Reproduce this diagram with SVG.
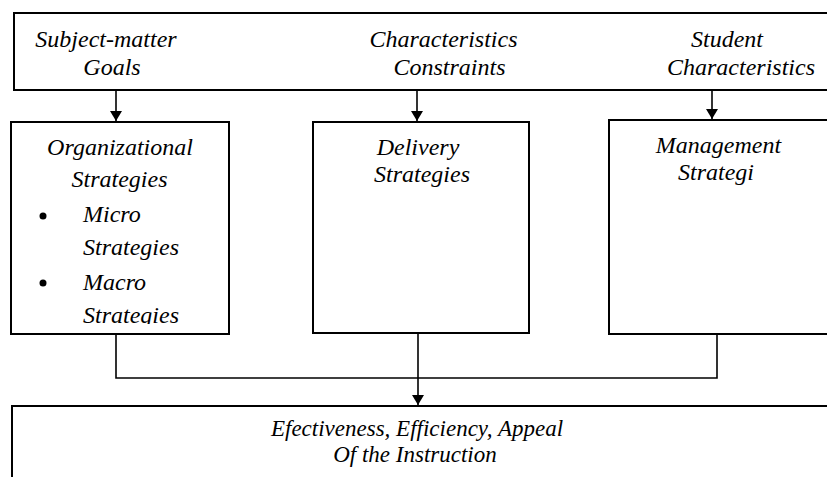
<svg xmlns="http://www.w3.org/2000/svg" width="827" height="477" viewBox="0 0 827 477">
<style>
.box{fill:#fff;stroke:#000;stroke-width:2}
.ln{fill:none;stroke:#000;stroke-width:1.6}
.c{text-anchor:middle}
</style>
<defs>
<marker id="ah" viewBox="0 0 10 12" refX="10" refY="6" markerWidth="10" markerHeight="12" markerUnits="userSpaceOnUse" orient="auto">
<path d="M0,0 L10,6 L0,12 Z" fill="#000"/>
</marker>
<clipPath id="clip1"><rect x="12" y="123" width="216" height="201"/></clipPath>
</defs>
<g font-family="'Liberation Serif', 'Times New Roman', serif" font-style="italic" font-size="24" fill="#000">
<g id="top-box">
<rect class="box" x="14" y="13" width="830" height="77"/>
<text class="c" x="106" y="47">Subject-matter</text>
<text class="c" x="112" y="75">Goals</text>
<text class="c" x="443.5" y="47">Characteristics</text>
<text class="c" x="449.5" y="75">Constraints</text>
<text class="c" x="727" y="47">Student</text>
<text class="c" x="741" y="75">Characteristics</text>
</g>
<g id="organizational">
<rect class="box" x="11" y="122" width="218" height="212"/>
<g clip-path="url(#clip1)">
<text class="c" x="120" y="155">Organizational</text>
<text class="c" x="119.5" y="187">Strategies</text>
<circle cx="43" cy="216" r="3.5" fill="#000"/>
<text x="83" y="222">Micro</text>
<text x="83" y="255">Strategies</text>
<circle cx="43" cy="283" r="3.5" fill="#000"/>
<text x="83" y="290">Macro</text>
<text x="83" y="323">Strategies</text>
</g>
</g>
<g id="delivery">
<rect class="box" x="313" y="122" width="216" height="211"/>
<text class="c" x="418" y="155">Delivery</text>
<text class="c" x="422" y="182">Strategies</text>
</g>
<g id="management">
<rect class="box" x="609" y="120" width="240" height="214"/>
<text class="c" x="718.5" y="153">Management</text>
<text class="c" x="716" y="180">Strategi</text>
</g>
<g id="outcome" font-size="23">
<rect class="box" x="12" y="406" width="840" height="100"/>
<text class="c" x="417" y="436">Efectiveness, Efficiency, Appeal</text>
<text class="c" x="415" y="462">Of the Instruction</text>
</g>
</g>
<g id="connectors">
<line class="ln" x1="116" y1="90" x2="116" y2="121" marker-end="url(#ah)"/>
<line class="ln" x1="417" y1="90" x2="417" y2="121" marker-end="url(#ah)"/>
<line class="ln" x1="712" y1="90" x2="712" y2="119" marker-end="url(#ah)"/>
<polyline class="ln" points="116,334 116,378 717,378 717,334"/>
<line class="ln" x1="418" y1="333" x2="418" y2="405" marker-end="url(#ah)"/>
</g>
</svg>
